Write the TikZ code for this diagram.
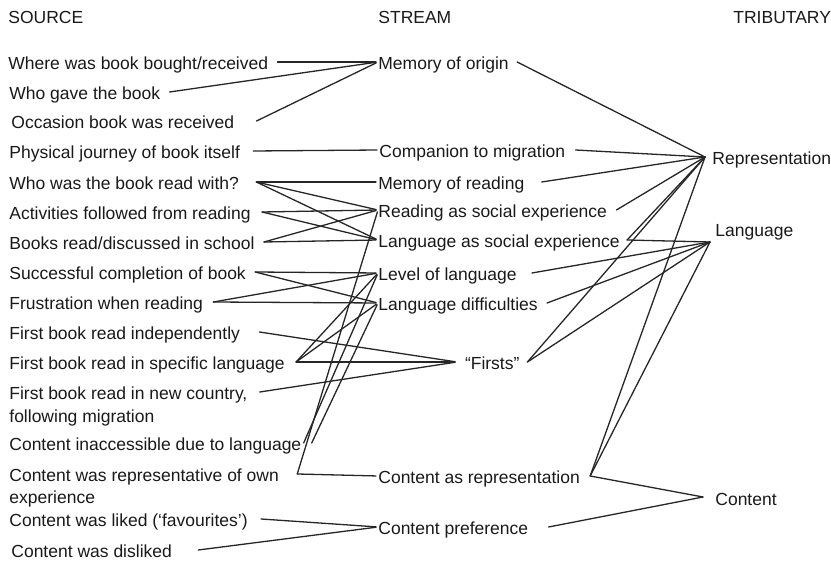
\documentclass[tikz,border=0pt]{standalone}
\usepackage{fontspec}
\setmainfont{Liberation Sans}
\begin{document}
\begin{tikzpicture}[x=0.5pt,y=-0.5pt,line join=round,line cap=round,
	font=\fontsize{8.75}{10.5}\selectfont,
	txt/.style={anchor=west,inner sep=0pt,text height=0.72em,text depth=0pt,text=black!90},
	lnk/.style={draw=black!85,line width=0.65pt},
	sl/.style={lnk,shorten >=1pt}]
	\useasboundingbox (0,0) rectangle (831,566);
	\node[txt] (hsrc) at (8,16) {SOURCE};
	\node[txt] (hstr) at (378,16) {STREAM};
	\node[txt] (htrb) at (733,16) {TRIBUTARY};
	\node[txt] (s1) at (8,62) {Where was book bought/received};
	\node[txt] (s2) at (9,92) {Who gave the book};
	\node[txt] (s3) at (11,121) {Occasion book was received};
	\node[txt] (s4) at (9,151) {Physical journey of book itself};
	\node[txt] (s5) at (9,182) {Who was the book read with?};
	\node[txt] (s6) at (9,212) {Activities followed from reading};
	\node[txt] (s7) at (9,242) {Books read/discussed in school};
	\node[txt] (s8) at (9,272) {Successful completion of book};
	\node[txt] (s9) at (9,302) {Frustration when reading};
	\node[txt] (s10) at (9,332) {First book read independently};
	\node[txt] (s11) at (9,362) {First book read in specific language};
	\node[txt,label={[txt,yshift=-7.85pt]south west:following migration}] (s12) at (9,392) {First book read in new country,};
	\node[txt] (s13) at (9,443) {Content inaccessible due to language};
	\node[txt,label={[txt,yshift=-7.35pt]south west:experience}] (s14) at (9,474) {Content was representative of own};
	\node[txt] (s15) at (9,519) {Content was liked (‘favourites’)};
	\node[txt] (s16) at (11,550) {Content was disliked};
	\node[txt] (t1) at (378,62) {Memory of origin};
	\node[txt] (t2) at (379,150) {Companion to migration};
	\node[txt] (t3) at (378,182) {Memory of reading};
	\node[txt] (t4) at (378,210) {Reading as social experience};
	\node[txt] (t5) at (378,240) {Language as social experience};
	\node[txt] (t6) at (378,273) {Level of language};
	\node[txt] (t7) at (378,303) {Language difficulties};
	\node[txt,outer xsep=4pt] (t8) at (457,362) {“Firsts”};
	\node[txt] (t9) at (378,476) {Content as representation};
	\node[txt] (t10) at (378,527) {Content preference};
	\node[txt] (r1) at (712,157) {Representation};
	\node[txt] (r2) at (715,229) {Language};
	\node[txt] (r3) at (715,498) {Content};
	\foreach \a/\b/\g in {s1/t1/9,s2/t1/9,s3/t1/22,s4/t2/13,s5/t3/17,s5/t4/17,s5/t5/17,
		s6/t4/11,s6/t5/11,s7/t4/9,s7/t5/9,s8/t6/9,s8/t7/9,s9/t6/10,s9/t7/10,
		s10/t8/19,s11/t8/11,s11/t6/11,s11/t7/11,s12/t8/12,s13/t6/2,s13/t7/10,
		s14/t9/18,s14/t4/18,s15/t10/13,s16/t10/26}
		\draw[sl] ([shift={(\g,0)}]\a.east) -- (\b.west);
	\foreach \a/\g in {t1/8,t2/10,t3/17,t4/9,t5/7,t8/0,t9/10}
		\draw[lnk] ([shift={(\g,0)}]\a.east) -- ([shift={(-7,0)}]r1.west);
	\foreach \a/\g in {t5/7,t6/15,t7/9,t8/0,t9/10}
		\draw[lnk] ([shift={(\g,0)}]\a.east) -- ([shift={(-5,13)}]r2.west);
	\foreach \a/\g in {t9/10,t10/20}
		\draw[lnk] ([shift={(\g,0)}]\a.east) -- ([shift={(-12,-1)}]r3.west);
\end{tikzpicture}
\end{document}
